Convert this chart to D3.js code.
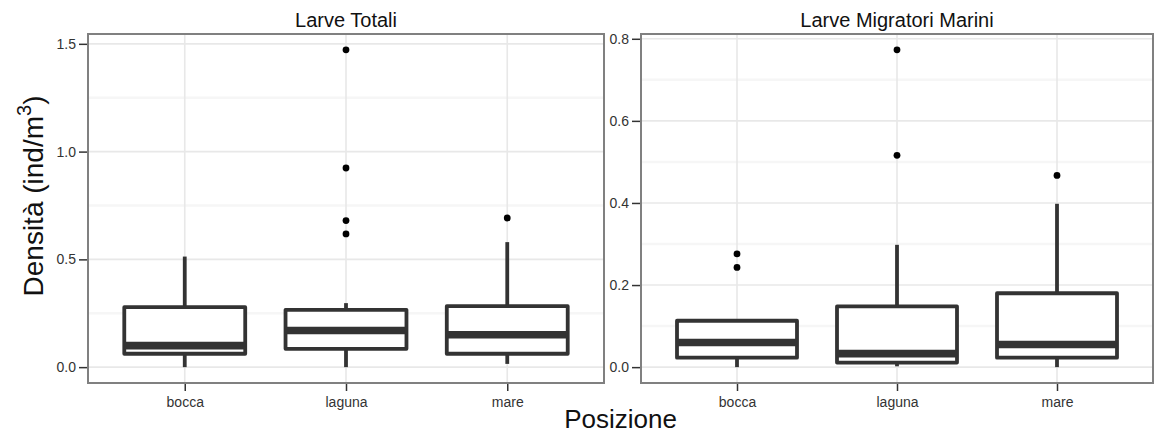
<!DOCTYPE html>
<html>
<head>
<meta charset="utf-8">
<script src="https://cdn.jsdelivr.net/npm/d3@7"></script>
<style>
  body { margin: 0; background: #fff; }
  text { font-family: "Liberation Sans", Arial, Helvetica, sans-serif; }
</style>
</head>
<body>
<div id="chart"></div>
<script>

// categories on the x axis
var positions = ['bocca', 'laguna', 'mare'];

// panel titles
var panelTitles = ['Larve Totali', 'Larve Migratori Marini'];

// Larve Totali - box stats per position
var totLow = [0.0, 0.0, 0.015];
var totQ1 = [0.062, 0.085, 0.062];
var totMed = [0.100, 0.170, 0.150];
var totQ3 = [0.278, 0.266, 0.283];
var totHigh = [0.513, 0.297, 0.580];
var totOut = [[], [1.472, 0.924, 0.680, 0.618], [0.692]];
var totTicks = [0.0, 0.5, 1.0, 1.5];
var totMinor = [0.25, 0.75, 1.25];

// Larve Migratori Marini - box stats per position
var migLow = [0.0, 0.002, 0.0];
var migQ1 = [0.023, 0.011, 0.023];
var migMed = [0.060, 0.033, 0.055];
var migQ3 = [0.113, 0.148, 0.180];
var migHigh = [0.113, 0.298, 0.398];
var migOut = [[0.276, 0.243], [0.773, 0.516], [0.467]];
var migTicks = [0.0, 0.2, 0.4, 0.6, 0.8];
var migMinor = [0.1, 0.3, 0.5, 0.7];

// svg container
var width = 1154;
var height = 434;

var svg = d3.select('#chart').append('svg')
    .attr('width', width)
    .attr('height', height);

// panel boxes (pixel extents)
var panels = [
    { x0: 88, x1: 604, y0: 34, y1: 383 },
    { x0: 641, x1: 1153, y0: 34, y1: 383 }
];

var boxColor = '#333333';
var lineW = 3.8;

function drawPanel(p, title, low, q1, med, q3, high, out, ticks, minor) {

    // ggplot style 5% expansion of the data range
    var all = low.concat(high, d3.merge(out));
    var lo = d3.min(all), hi = d3.max(all);
    var pad = (hi - lo) * 0.05;

    var y = d3.scaleLinear()
        .domain([lo - pad, hi + pad])
        .range([p.y1, p.y0]);

    var x = d3.scalePoint()
        .domain(positions)
        .range([p.x0, p.x1])
        .padding(0.6);

    var boxW = x.step() * 0.75;

    var g = svg.append('g');

    // minor grid
    g.selectAll('.minor')
        .data(minor)
        .enter()
        .append('line')
        .attr('x1', p.x0).attr('x2', p.x1)
        .attr('y1', d => y(d)).attr('y2', d => y(d))
        .attr('stroke', '#f6f6f6')
        .attr('stroke-width', 2.5);

    // major grid
    g.selectAll('.major')
        .data(ticks)
        .enter()
        .append('line')
        .attr('x1', p.x0).attr('x2', p.x1)
        .attr('y1', d => y(d)).attr('y2', d => y(d))
        .attr('stroke', '#e8e8e8')
        .attr('stroke-width', 1.6);

    g.selectAll('.vgrid')
        .data(positions)
        .enter()
        .append('line')
        .attr('x1', d => x(d)).attr('x2', d => x(d))
        .attr('y1', p.y0).attr('y2', p.y1)
        .attr('stroke', '#e8e8e8')
        .attr('stroke-width', 1.6);

    // one group per box
    var idx = d3.range(positions.length);
    var boxes = g.selectAll('.box')
        .data(idx)
        .enter()
        .append('g');

    // whiskers
    boxes.append('line')
        .attr('x1', i => x(positions[i])).attr('x2', i => x(positions[i]))
        .attr('y1', i => y(q3[i])).attr('y2', i => y(high[i]))
        .attr('stroke', boxColor)
        .attr('stroke-width', lineW);

    boxes.append('line')
        .attr('x1', i => x(positions[i])).attr('x2', i => x(positions[i]))
        .attr('y1', i => y(q1[i])).attr('y2', i => y(low[i]))
        .attr('stroke', boxColor)
        .attr('stroke-width', lineW);

    // box
    boxes.append('rect')
        .attr('x', i => x(positions[i]) - boxW / 2)
        .attr('width', boxW)
        .attr('y', i => y(q3[i]))
        .attr('height', i => y(q1[i]) - y(q3[i]))
        .attr('fill', '#fff')
        .attr('stroke', boxColor)
        .attr('stroke-width', lineW)
        .attr('stroke-linejoin', 'round');

    // median (fattened line)
    boxes.append('line')
        .attr('x1', i => x(positions[i]) - boxW / 2)
        .attr('x2', i => x(positions[i]) + boxW / 2)
        .attr('y1', i => y(med[i])).attr('y2', i => y(med[i]))
        .attr('stroke', boxColor)
        .attr('stroke-width', lineW * 2);

    // outliers
    var pts = [];
    out.forEach(function (vals, i) {
        vals.forEach(function (v) { pts.push({ pos: positions[i], v: v }); });
    });

    g.selectAll('.out')
        .data(pts)
        .enter()
        .append('circle')
        .attr('cx', d => x(d.pos))
        .attr('cy', d => y(d.v))
        .attr('r', 3.4)
        .attr('fill', '#000');

    // panel border
    g.append('rect')
        .attr('x', p.x0).attr('y', p.y0)
        .attr('width', p.x1 - p.x0).attr('height', p.y1 - p.y0)
        .attr('fill', 'none')
        .attr('stroke', '#808080')
        .attr('stroke-width', 2);

    // y axis
    var yAxis = d3.axisLeft(y)
        .tickValues(ticks)
        .tickFormat(d3.format('.1f'))
        .tickSize(8)
        .tickPadding(3);

    var ya = g.append('g')
        .attr('transform', `translate(${p.x0 - 1}, 0)`)
        .call(yAxis);
    ya.select('.domain').remove();
    ya.selectAll('line').attr('stroke', boxColor).attr('stroke-width', 1.5);
    ya.selectAll('text')
        .attr('fill', '#333')
        .style('font-size', '14px');

    // x axis
    var xAxis = d3.axisBottom(x)
        .tickSize(7)
        .tickPadding(6);

    var xa = g.append('g')
        .attr('transform', `translate(0, ${p.y1 + 1})`)
        .call(xAxis);
    xa.select('.domain').remove();
    xa.selectAll('line').attr('stroke', boxColor).attr('stroke-width', 1.5);
    xa.selectAll('text')
        .attr('fill', '#333')
        .style('font-size', '14px');

    // panel title
    svg.append('text')
        .attr('x', (p.x0 + p.x1) / 2)
        .attr('y', 27)
        .attr('text-anchor', 'middle')
        .style('font-size', '20px')
        .attr('fill', '#111')
        .text(title);
}

drawPanel(panels[0], panelTitles[0], totLow, totQ1, totMed, totQ3, totHigh, totOut, totTicks, totMinor);
drawPanel(panels[1], panelTitles[1], migLow, migQ1, migMed, migQ3, migHigh, migOut, migTicks, migMinor);

// x axis label
svg.append('text')
    .attr('x', (panels[0].x0 + panels[1].x1) / 2)
    .attr('y', 428)
    .attr('text-anchor', 'middle')
    .style('font-size', '26px')
    .attr('fill', '#111')
    .text('Posizione');

// y axis label
var yLab = svg.append('text')
    .attr('transform', 'translate(43, 196) rotate(-90)')
    .attr('text-anchor', 'middle')
    .style('font-size', '28px')
    .attr('fill', '#111');
yLab.append('tspan').text('Densità (ind/m');
yLab.append('tspan')
    .attr('dy', -12)
    .style('font-size', '20px')
    .text('3');
yLab.append('tspan')
    .attr('dy', 12)
    .text(')');

</script>
</body>
</html>
